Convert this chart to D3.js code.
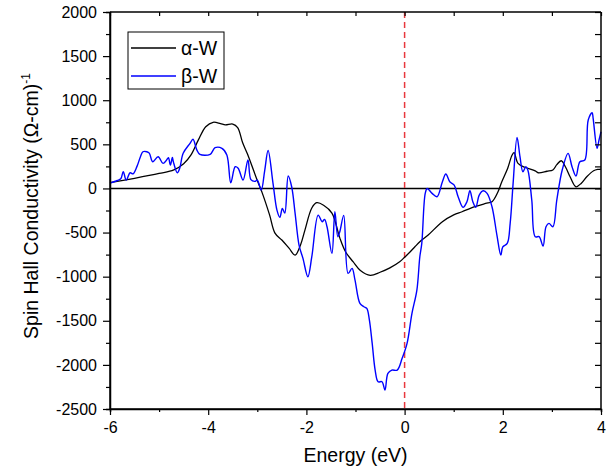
<!DOCTYPE html>
<html>
<head>
<meta charset="utf-8">
<script src="https://cdn.jsdelivr.net/npm/d3@7"></script>
<style>
  body { margin: 0; background: #fff; }
  text { font-family: Arial, "Liberation Sans", sans-serif; }
</style>
</head>
<body>
<script>
// alpha-W, smooth curve (energy in eV, conductivity)
var alphaE = [-6.0,-5.5,-5.0,-4.7,-4.5,-4.35,-4.2,-4.05,-3.9,-3.75,-3.65,-3.5,-3.4,-3.3,-3.2,-3.0,-2.9,-2.75,-2.64,-2.5,-2.35,-2.23,-2.12,-2.03,-1.89,-1.79,-1.65,-1.48,-1.32,-1.2,-1.05,-0.9,-0.7,-0.5,-0.3,-0.1,0.0,0.11,0.21,0.31,0.48,0.77,1.0,1.17,1.43,1.65,1.78,1.9,1.98,2.1,2.19,2.23,2.31,2.45,2.66,2.72,2.9,3.02,3.1,3.19,3.28,3.37,3.49,3.6,3.71,3.85,3.94,4.0];
var alphaV = [65,115,170,210,280,380,550,700,750,735,720,730,690,520,390,90,-50,-300,-506,-585,-680,-755,-640,-472,-222,-162,-190,-280,-560,-720,-830,-930,-985,-950,-900,-830,-780,-720,-661,-604,-528,-377,-300,-264,-207,-170,-150,-40,76,230,379,405,284,240,200,178,195,209,270,314,240,133,19,60,133,200,216,220];

// beta-W, noisy curve
var betaE = [-6.0,-5.85,-5.78,-5.73,-5.67,-5.59,-5.53,-5.45,-5.38,-5.33,-5.25,-5.2,-5.13,-5.02,-4.92,-4.85,-4.81,-4.77,-4.73,-4.71,-4.63,-4.58,-4.51,-4.37,-4.31,-4.23,-4.17,-3.96,-3.86,-3.72,-3.62,-3.54,-3.45,-3.39,-3.29,-3.19,-3.13,-3.05,-3.0,-2.92,-2.85,-2.78,-2.68,-2.6,-2.54,-2.49,-2.44,-2.37,-2.3,-2.23,-2.15,-2.07,-1.97,-1.89,-1.76,-1.68,-1.63,-1.58,-1.48,-1.42,-1.36,-1.32,-1.24,-1.15,-1.07,-1.01,-0.91,-0.83,-0.77,-0.72,-0.66,-0.6,-0.54,-0.46,-0.4,-0.34,-0.26,-0.15,-0.05,0.05,0.15,0.25,0.31,0.35,0.42,0.46,0.56,0.66,0.77,0.84,0.92,1.01,1.09,1.19,1.27,1.33,1.39,1.45,1.52,1.6,1.68,1.78,1.88,1.96,2.0,2.09,2.15,2.21,2.29,2.35,2.41,2.47,2.51,2.59,2.66,2.74,2.82,2.88,2.94,3.02,3.1,3.21,3.33,3.41,3.49,3.57,3.67,3.74,3.82,3.84,3.92,3.96,4.0];
var betaV = [60,90,110,190,95,178,165,250,360,416,416,400,303,360,284,320,348,265,350,303,178,230,398,511,557,435,387,387,462,455,379,65,246,228,95,322,100,80,95,-18,200,430,58,-245,-328,-226,-279,141,19,-282,-642,-793,-1001,-774,-302,-377,-351,-434,-736,-264,-547,-491,-305,-963,-906,-1039,-1303,-1341,-1360,-1480,-1756,-2059,-2191,-2191,-2286,-2096,-2059,-2059,-1926,-1756,-1416,-1152,-774,-623,-56,0,-56,-94,76,163,76,38,-94,-214,-150,-26,-150,-214,-75,-26,-56,-207,-528,-755,-661,-623,-396,58,579,360,189,246,209,-131,-547,-547,-653,-434,-396,-434,-131,209,398,246,141,303,322,776,858,795,455,549,643];

var xTicks = [-6,-4,-2,0,2,4];
var yTicks = [2000,1500,1000,500,0,-500,-1000,-1500,-2000,-2500];
var seriesNames = ["\u03b1-W", "\u03b2-W"];
var seriesColors = ["#000000", "#0000ff"];

var W = 615, H = 469;
var svg = d3.select("body").append("svg").attr("width", W).attr("height", H);

var x = d3.scaleLinear().domain([-6, 4]).range([110, 601]);
var y = d3.scaleLinear().domain([-2500, 2000]).range([409, 12]);

// zero line and fermi level
svg.append("line").attr("x1", x(-6)).attr("x2", x(4)).attr("y1", y(0)).attr("y2", y(0))
   .attr("stroke", "#000").attr("stroke-width", 1.6);
svg.append("line").attr("x1", x(0)).attr("x2", x(0)).attr("y1", y(2000)).attr("y2", y(-2500))
   .attr("stroke", "#e8383d").attr("stroke-width", 1.5).attr("stroke-dasharray", "6,4");

var line = d3.line().curve(d3.curveCatmullRom.alpha(0.5))
  .x(function(d) { return x(d[0]); })
  .y(function(d) { return y(d[1]); });

var alphaData = alphaE.map(function(e, i) { return [e, alphaV[i]]; });
var betaData = betaE.map(function(e, i) { return [e, betaV[i]]; });

svg.append("path").datum(alphaData).attr("d", line)
   .attr("fill", "none").attr("stroke", seriesColors[0]).attr("stroke-width", 1.3);
svg.append("path").datum(betaData).attr("d", line)
   .attr("fill", "none").attr("stroke", seriesColors[1]).attr("stroke-width", 1.4);

// axes (plain hyphen for minus, like the original)
var fmt = function(d) { return String(d); };
var gx = svg.append("g").attr("transform", "translate(0," + y(-2500) + ")")
  .call(d3.axisBottom(x).tickValues(xTicks).tickFormat(fmt).tickSize(6).tickPadding(7));
var gxm = svg.append("g").attr("transform", "translate(0," + y(-2500) + ")")
  .call(d3.axisBottom(x).tickValues([-5,-3,-1,1,3]).tickFormat("").tickSize(3));
var gy = svg.append("g").attr("transform", "translate(" + x(-6) + ",0)")
  .call(d3.axisLeft(y).tickValues(yTicks).tickFormat(fmt).tickSize(7).tickPadding(6));
var gym = svg.append("g").attr("transform", "translate(" + x(-6) + ",0)")
  .call(d3.axisLeft(y).tickValues(d3.range(-2250, 2000, 500)).tickFormat("").tickSize(4));
var gt = svg.append("g").attr("transform", "translate(0," + y(2000) + ")")
  .call(d3.axisBottom(x).ticks(10).tickFormat("").tickSize(4));
var gr = svg.append("g").attr("transform", "translate(" + x(4) + ",0)")
  .call(d3.axisLeft(y).tickValues(d3.range(-2500, 2001, 250)).tickFormat("").tickSize(6));

[gx, gxm, gy, gym, gt, gr].forEach(function(g) {
  g.select(".domain").attr("stroke", "#000").attr("stroke-width", 1.5);
  g.selectAll(".tick line").attr("stroke", "#000").attr("stroke-width", 1.2);
  g.selectAll("text").attr("font-size", 16).attr("fill", "#000")
    .style("font-family", "Arial, 'Liberation Sans', sans-serif");
});
gx.select(".domain").attr("d", "M" + x(-6) + ",0H" + x(4));
gt.select(".domain").attr("d", "M" + x(-6) + ",0H" + x(4));
gy.select(".domain").attr("d", "M0," + y(2000) + "V" + y(-2500));
gr.select(".domain").attr("d", "M0," + y(2000) + "V" + y(-2500));

// titles
svg.append("text").attr("x", 355.5).attr("y", 462).attr("text-anchor", "middle")
   .attr("font-size", 19.5).text("Energy (eV)");
var yt = svg.append("text").attr("transform", "translate(38,206) rotate(-90)")
   .attr("text-anchor", "middle").attr("font-size", 19.5);
yt.append("tspan").text("Spin Hall Conductivity (\u03a9-cm)");
yt.append("tspan").attr("font-size", 12).attr("dy", -8).text("-1");

// legend
var lg = svg.append("g").attr("transform", "translate(128,32)");
lg.append("rect").attr("width", 96).attr("height", 57)
  .attr("fill", "#fff").attr("stroke", "#000").attr("stroke-width", 1);
seriesNames.forEach(function(n, i) {
  var yy = 16 + i * 28;
  lg.append("line").attr("x1", 3).attr("x2", 48).attr("y1", yy).attr("y2", yy)
    .attr("stroke", seriesColors[i]).attr("stroke-width", 1.3);
  lg.append("text").attr("x", 53).attr("y", yy + 7).attr("font-size", 19.5).text(n);
});
</script>
</body>
</html>
